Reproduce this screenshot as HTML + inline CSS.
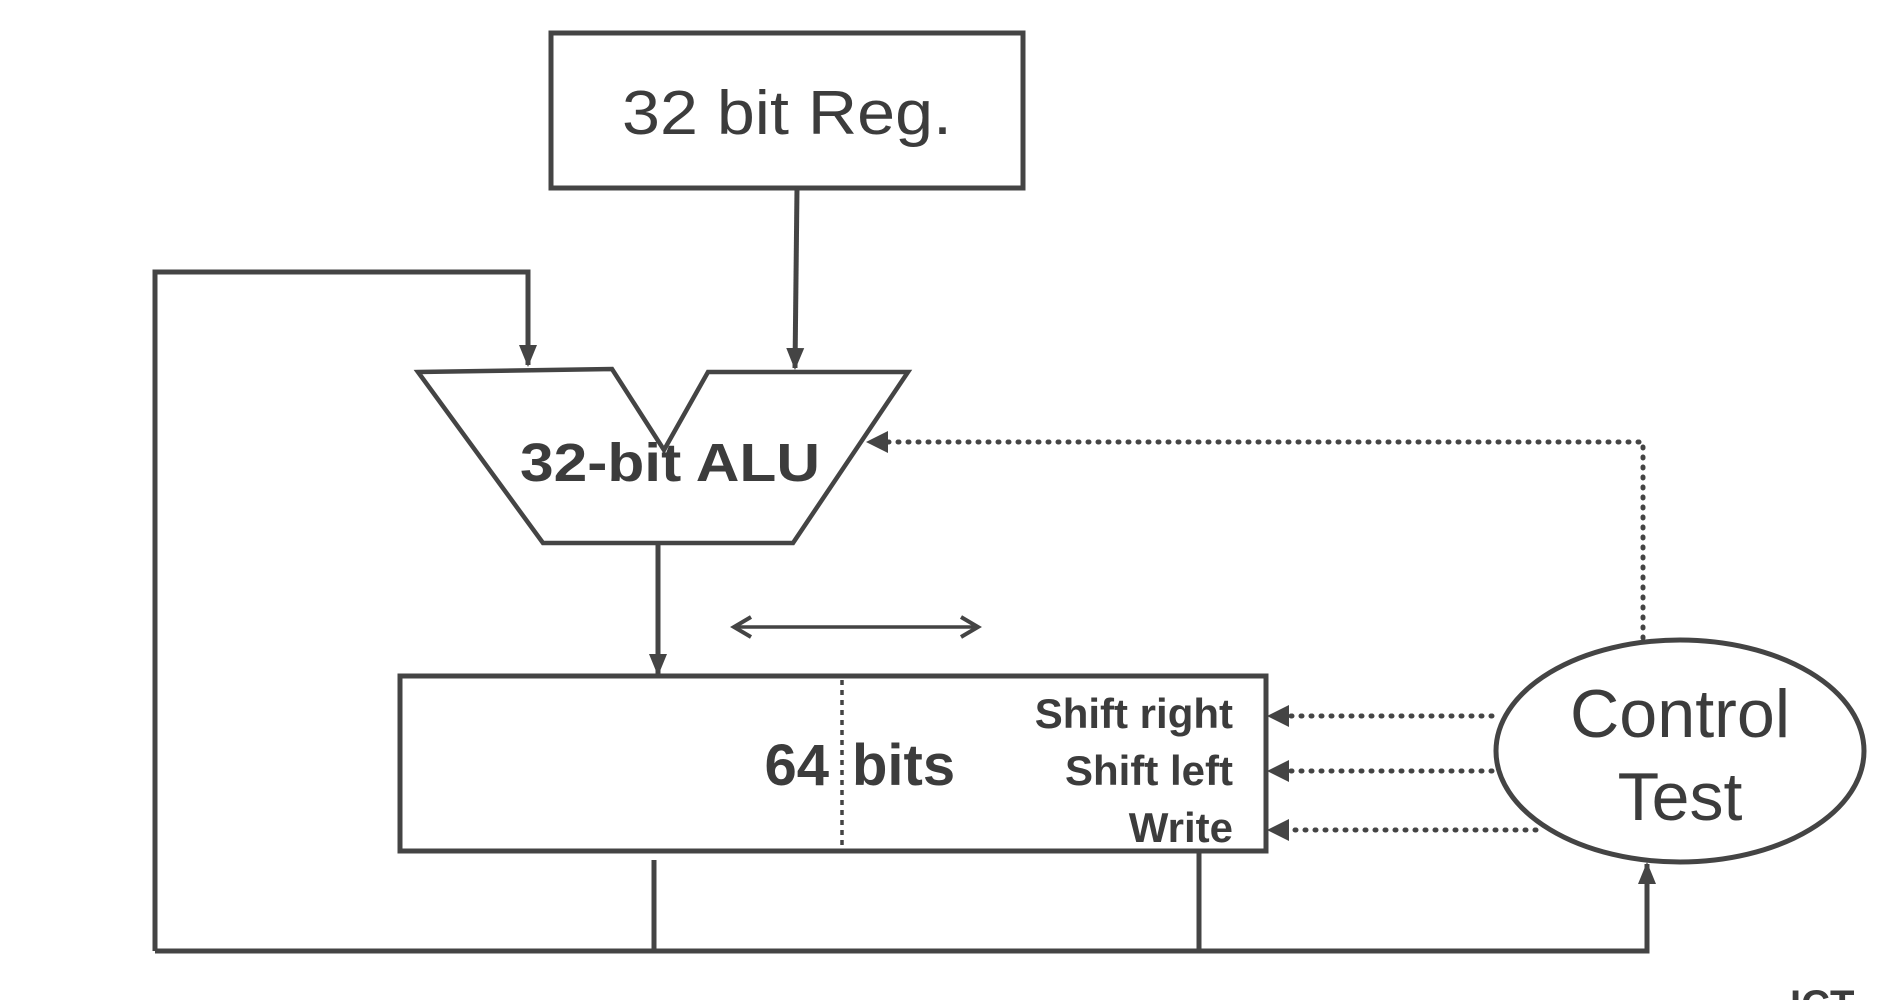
<!DOCTYPE html>
<html><head><meta charset="utf-8"><style>
html,body{margin:0;padding:0;background:#fff;}
svg{display:block}
text{font-family:"Liberation Sans",Arial,sans-serif;fill:#3c3c3c}
</style></head><body>
<svg width="1899" height="1000" viewBox="0 0 1899 1000" xmlns="http://www.w3.org/2000/svg">
<defs>
<marker id="b" markerWidth="22" markerHeight="22" refX="20" refY="11" orient="auto" markerUnits="userSpaceOnUse">
<path d="M0,2 L22,11 L0,20 Z" fill="#444"/></marker>
<marker id="o" markerWidth="24" markerHeight="24" refX="20" refY="12" orient="auto-start-reverse" markerUnits="userSpaceOnUse">
<path d="M3,2 L20,12 L3,22" fill="none" stroke="#444" stroke-width="4"/></marker>
</defs>
<g stroke="#444" stroke-width="5" fill="none">
<rect x="551" y="33" width="472" height="155"/>
<line x1="797" y1="188" x2="795" y2="368" marker-end="url(#b)"/>
<polyline points="155,951 155,272 528,272 528,365" marker-end="url(#b)"/>
<polygon points="418,372 612,369 664,450 708,372 908,372 793,543 543,543" stroke-width="4.5"/>
<line x1="658" y1="543" x2="658" y2="674" marker-end="url(#b)"/>
<line x1="734" y1="627" x2="978" y2="627" stroke-width="3.5" marker-start="url(#o)" marker-end="url(#o)"/>
<rect x="400" y="676" width="866" height="175"/>
<line x1="842" y1="680" x2="842" y2="848" stroke-width="3.5" stroke-dasharray="5,5"/>
<ellipse cx="1680" cy="751" rx="184" ry="111"/>
<polyline points="155,951 1647,951 1647,864" marker-end="url(#b)"/>
<line x1="654" y1="860" x2="654" y2="951"/>
<line x1="1199" y1="851" x2="1199" y2="951"/>
</g>
<g stroke="#444" stroke-width="5" fill="none" stroke-dasharray="1,9" stroke-linecap="round">
<polyline points="1643,638 1643,442 886,442"/>
<line x1="1492" y1="716" x2="1290" y2="716"/>
<line x1="1492" y1="771" x2="1290" y2="771"/>
<line x1="1536" y1="830" x2="1290" y2="830"/>
</g>
<g fill="#444">
<path d="M866,442 L888,431 L888,453 Z"/>
<path d="M1267,716 L1289,705 L1289,727 Z"/>
<path d="M1267,771 L1289,760 L1289,782 Z"/>
<path d="M1267,830 L1289,819 L1289,841 Z"/>
</g>
<text x="787" y="134" font-size="62" text-anchor="middle" textLength="330" lengthAdjust="spacingAndGlyphs">32 bit Reg.</text>
<text x="670" y="481" font-size="54" font-weight="bold" text-anchor="middle" textLength="300" lengthAdjust="spacingAndGlyphs">32-bit ALU</text>
<text x="829" y="785" font-size="58" font-weight="bold" text-anchor="end">64</text>
<text x="852" y="785" font-size="58" font-weight="bold">bits</text>
<text x="1233" y="728" font-size="42" font-weight="bold" text-anchor="end">Shift right</text>
<text x="1233" y="785" font-size="42" font-weight="bold" text-anchor="end">Shift left</text>
<text x="1233" y="842" font-size="42" font-weight="bold" text-anchor="end">Write</text>
<text x="1680" y="737" font-size="68" text-anchor="middle" textLength="220" lengthAdjust="spacingAndGlyphs">Control</text>
<text x="1680" y="820" font-size="68" text-anchor="middle">Test</text>
<text x="1790" y="1018" font-size="40" font-weight="bold">ICT</text>
</svg>
</body></html>
